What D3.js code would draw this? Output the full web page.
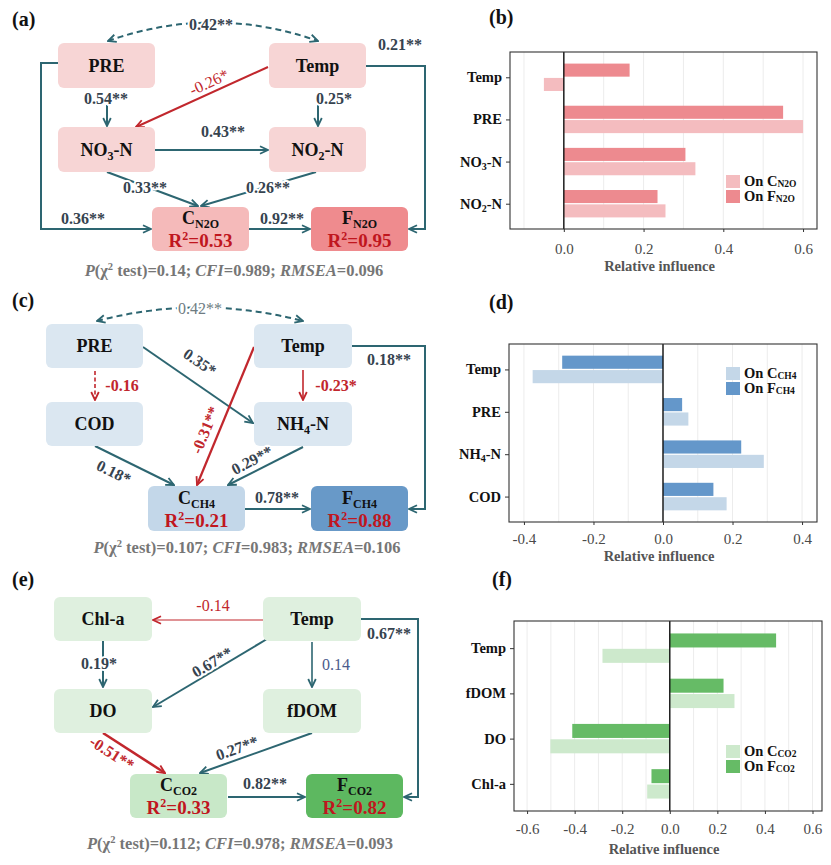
<!DOCTYPE html>
<html><head><meta charset="utf-8">
<script src="https://cdn.jsdelivr.net/npm/d3@7"></script>
<style>body{margin:0;background:#fff} text{font-family:"Liberation Serif","Times New Roman",serif}</style>
</head><body><svg id="c" width="831" height="865"></svg>
<script>
// ================= DATA =================
// (b) relative influence on N2O
const catsB = ["Temp","PRE","NO_{3}-N","NO_{2}-N"];
const onC_B = [-0.05, 0.60, 0.33, 0.255];
const onF_B = [0.165, 0.55, 0.305, 0.235];
const ticksB = [0.0, 0.2, 0.4, 0.6];
const legendB = ["On C_{N2O}", "On F_{N2O}"];
// (d) relative influence on CH4
const catsD = ["Temp","PRE","NH_{4}-N","COD"];
const onC_D = [-0.375, 0.073, 0.29, 0.183];
const onF_D = [-0.29, 0.055, 0.225, 0.145];
const ticksD = [-0.4, -0.2, 0.0, 0.2, 0.4];
const legendD = ["On C_{CH4}", "On F_{CH4}"];
// (f) relative influence on CO2
const catsF = ["Temp","fDOM","DO","Chl-a"];
const onC_F = [-0.283, 0.272, -0.502, -0.095];
const onF_F = [0.447, 0.226, -0.41, -0.077];
const ticksF = [-0.6, -0.4, -0.2, 0.0, 0.2, 0.4, 0.6];
const legendF = ["On C_{CO2}", "On F_{CO2}"];

// path diagrams: node names, R2, coefficients, fit indices
const nodesA = ["PRE","Temp","NO_{3}-N","NO_{2}-N","C_{N2O}","F_{N2O}"];
const r2A = ["0.53","0.95"];
const coefA = ["0.42**","0.54**","0.25*","-0.26*","0.43**","0.33**","0.26**","0.92**","0.36**","0.21**"];
const fitA = ["0.14","0.989","0.096"];

const nodesC = ["PRE","Temp","COD","NH_{4}-N","C_{CH4}","F_{CH4}"];
const r2C = ["0.21","0.88"];
const coefC = ["0.42**","-0.16","0.35*","-0.23*","-0.31**","0.18*","0.29**","0.78**","0.18**"];
const fitC = ["0.107","0.983","0.106"];

const nodesE = ["Chl-a","Temp","DO","fDOM","C_{CO2}","F_{CO2}"];
const r2E = ["0.33","0.82"];
const coefE = ["-0.14","0.19*","0.67**","0.14","-0.51**","0.27**","0.82**","0.67**"];
const fitE = ["0.112","0.978","0.093"];

// ================= STYLE / LAYOUT =================
const TEAL = "#2d6671", RED = "#c1272d", LBL = "#36434f";
const svg = d3.select("#c");
const defs = svg.append("defs");
function marker(id, color) {
  defs.append("marker").attr("id", id).attr("viewBox", "0 0 10 10")
    .attr("refX", 9).attr("refY", 5).attr("markerWidth", 10).attr("markerHeight", 10)
    .attr("markerUnits", "userSpaceOnUse").attr("orient", "auto-start-reverse")
    .append("path").attr("d", "M1,1.2 L9,5 L1,8.8").attr("fill", "none")
    .attr("stroke", color).attr("stroke-width", 1.8).attr("stroke-linejoin", "miter");
}
marker("aT", TEAL); marker("aR", RED);

function rich(t, str, o) {
  const size = o.size, sub = o.sub || size * 0.65, sup = o.sup || size * 0.65;
  const re = /\*([^*]+)\*|_\{([^}]*)\}|\^\{([^}]*)\}|([^*_^]+)/g;
  let m, cur = 0;
  while ((m = re.exec(str))) {
    let txt, fs = size, off = 0, it = false;
    if (m[1] !== undefined) { txt = m[1]; it = true; }
    else if (m[2] !== undefined) { txt = m[2]; fs = sub; off = (o.subShift ?? size * 0.25); }
    else if (m[3] !== undefined) { txt = m[3]; fs = sup; off = -(o.supShift ?? size * 0.38); }
    else txt = m[4];
    const ts = t.append("tspan").attr("font-size", fs).text(txt);
    if (off !== cur) ts.attr("dy", off - cur);
    if (it) ts.attr("font-style", "italic");
    cur = off;
  }
  return t;
}

function panelLabel(txt, x, y) {
  svg.append("text").attr("x", x).attr("y", y).attr("font-size", 20).attr("font-weight", "bold")
    .attr("fill", "#111").text(txt);
}

function drawDiagram(cfg) {
  const g = svg.append("g");
  cfg.edges.forEach(e => {
    let d;
    if (e.curve) {
      const [p0, c, p1] = e.curve;
      d = `M${p0[0]},${p0[1]} Q${c[0]},${c[1]} ${p1[0]},${p1[1]}`;
    } else d = d3.line()(e.pts);
    const col = e.red ? RED : TEAL;
    const p = g.append("path").attr("d", d).attr("fill", "none").attr("stroke", col)
      .attr("stroke-width", e.w || 2).attr("marker-end", `url(#${e.red ? "aR" : "aT"})`);
    if (e.dash) p.attr("stroke-dasharray", e.dash);
    if (e.both) p.attr("marker-start", `url(#${e.red ? "aR" : "aT"})`);
  });
  cfg.nodes.forEach((name, i) => {
    const [x, y, w, h] = cfg.layout[i];
    g.append("rect").attr("x", x).attr("y", y).attr("width", w).attr("height", h)
      .attr("rx", 6).attr("fill", cfg.fills[i]);
    const cx = x + w / 2, cy = y + h / 2;
    if (i < 4) {
      rich(g.append("text").attr("x", cx).attr("y", cy + 6).attr("text-anchor", "middle")
        .attr("font-weight", "bold").attr("fill", "#111"), name, {size: 18, sub: 12, subShift: 4});
    } else {
      rich(g.append("text").attr("x", cx).attr("y", cy - 5).attr("text-anchor", "middle")
        .attr("font-weight", "bold").attr("fill", "#111"), name, {size: 18, sub: 12, subShift: 4});
      rich(g.append("text").attr("x", cx).attr("y", cy + 18).attr("text-anchor", "middle")
        .attr("font-weight", "bold").attr("fill", "#c0161e"), "R^{2}=" + cfg.r2[i - 4], {size: 19, sup: 12, supShift: 7});
    }
  });
  cfg.labels.forEach((l, i) => {
    g.append("text").attr("transform", `translate(${l[0]},${l[1]}) rotate(${l[2] || 0})`)
      .attr("text-anchor", "middle").attr("dy", "0.35em").attr("font-size", 16)
      .attr("font-weight", l[4] || "bold").attr("fill", l[3] || LBL)
      .attr("stroke", "#fff").attr("stroke-width", 4).attr("paint-order", "stroke")
      .attr("stroke-linejoin", "round").text(cfg.coef[i]);
  });
  const f = cfg.fit;
  rich(g.append("text").attr("x", cfg.cap[0]).attr("y", cfg.cap[1]).attr("text-anchor", "middle")
    .attr("font-weight", "bold").attr("fill", "#767676"),
    `*P*(χ^{2} test)=${f[0]}; *CFI*=${f[1]}; *RMSEA*=${f[2]}`, {size: 16.5, sup: 10.5, supShift: 6.5});
}

// ---- diagram (a)
panelLabel("(a)", 12, 26);
drawDiagram({
  nodes: nodesA, r2: r2A, coef: coefA, fit: fitA, cap: [234, 276],
  fills: ["#f7d5d5","#f7d5d5","#f7d5d5","#f7d5d5","#f5baba","#ef8b8e"],
  layout: [[58,43,97,45],[269,43,97,45],[58,127,97,45],[269,127,97,45],[152,207,97,44],[311,207,97,44]],
  edges: [
    {curve: [[108,41],[213,4],[318,41]], dash: "6,4", both: true},
    {pts: [[107,105],[107,126]]},
    {pts: [[318,105],[318,126]]},
    {pts: [[268,67],[136,127]], red: true},
    {pts: [[155,150],[268,150]]},
    {pts: [[107,172],[198,206]]},
    {pts: [[316,172],[201,206]]},
    {pts: [[249,229],[310,229]]},
    {pts: [[58,63],[41,63],[41,229],[151,229]]},
    {pts: [[366,66],[425,66],[425,229],[409,229]]}
  ],
  labels: [[211,24],[106,98],[334,98],[209,82,-24.8,RED,"normal"],[223,131],[145,187],[268,187],[282,218],[83,218],[400,44]]
});

// ---- diagram (c)
panelLabel("(c)", 12, 307);
drawDiagram({
  nodes: nodesC, r2: r2C, coef: coefC, fit: fitC, cap: [247, 553],
  fills: ["#dbe7f1","#dbe7f1","#dbe7f1","#dbe7f1","#c3d7e9","#6899c8"],
  layout: [[46,324,97,44],[254,324,98,44],[46,402,97,44],[254,402,98,44],[148,486,97,45],[311,486,97,45]],
  edges: [
    {curve: [[97,321],[200,294],[303,321]], dash: "6,4", both: true},
    {pts: [[95,371],[95,400]], red: true, dash: "4,2.5", w: 1.6},
    {pts: [[143,347],[253,423]]},
    {pts: [[303,370],[303,400]], red: true, w: 1.6},
    {pts: [[254,347],[197,485]], red: true, w: 2.2},
    {pts: [[95,446],[174,485]]},
    {pts: [[303,447],[228,485]]},
    {pts: [[245,509],[310,509]]},
    {pts: [[352,346],[425,346],[425,509],[409,509]]}
  ],
  labels: [[200,308,0,"#6e7c82","normal"],[122,385,0,RED],[200,362,34.6],[336,385,0,RED],[205,430,-67.6,RED],[114,472,26],[252,460,-27.5],[277,497],[389,359]]
});

// ---- diagram (e)
panelLabel("(e)", 12, 586);
drawDiagram({
  nodes: nodesE, r2: r2E, coef: coefE, fit: fitE, cap: [240, 849],
  fills: ["#dff0df","#dff0df","#dff0df","#dff0df","#c8e8c8","#5db860"],
  layout: [[54,597,98,44],[263,597,98,44],[54,689,98,44],[263,689,98,44],[130,774,97,44],[306,774,97,44]],
  edges: [
    {pts: [[263,620],[153,620]], red: true, w: 1.2},
    {pts: [[103,641],[103,687]]},
    {pts: [[267,639],[153,707]]},
    {pts: [[312,642],[312,687]], w: 1.6},
    {pts: [[103,733],[165,773]], red: true, w: 2.6},
    {pts: [[312,733],[200,773]]},
    {pts: [[228,797],[305,797]]},
    {pts: [[361,619],[418,619],[418,797],[404,797]]}
  ],
  labels: [[213,605,0,RED,"normal"],[99,663],[212,662,-30.8],[336,664,0,"#4a5b8c","normal"],[112,753,32.8,RED],[237,748,-19.6],[265,783],[389,633]]
});

// ================= BAR CHARTS =================
function barChart(cfg) {
  const g = svg.append("g");
  const [x0, x1, y0, y1] = cfg.box;
  const x = d3.scaleLinear().domain(cfg.domain).range([x0, x1]);
  const y = d3.scalePoint().domain(cfg.cats).range([y0, y1]).padding(0.6);
  const step = y.step(), bh = step * 0.31, off = step * 0.17;
  const grid = d3.range(Math.ceil(cfg.domain[0] * 10), Math.floor(cfg.domain[1] * 10) + 1).map(k => k / 10);
  g.selectAll(".gr").data(grid).join("line").attr("x1", d => x(d)).attr("x2", d => x(d))
    .attr("y1", y0).attr("y2", y1).attr("stroke", "#ececec").attr("stroke-width", 1);
  const rows = cfg.cats.map((c, i) => ({c, C: cfg.C[i], F: cfg.F[i]}));
  g.selectAll(".bf").data(rows).join("rect")
    .attr("x", d => Math.min(x(0), x(d.F))).attr("width", d => Math.abs(x(d.F) - x(0)))
    .attr("y", d => y(d.c) - off - bh / 2).attr("height", bh).attr("fill", cfg.dark);
  g.selectAll(".bc").data(rows).join("rect")
    .attr("x", d => Math.min(x(0), x(d.C))).attr("width", d => Math.abs(x(d.C) - x(0)))
    .attr("y", d => y(d.c) + off - bh / 2).attr("height", bh).attr("fill", cfg.light);
  g.append("line").attr("x1", x(0)).attr("x2", x(0)).attr("y1", y0).attr("y2", y1)
    .attr("stroke", "#111").attr("stroke-width", 1.4);
  g.append("rect").attr("x", x0).attr("y", y0).attr("width", x1 - x0).attr("height", y1 - y0)
    .attr("fill", "none").attr("stroke", "#333").attr("stroke-width", 1.1);
  const ax = g.append("g").attr("transform", `translate(0,${y1})`)
    .call(d3.axisBottom(x).tickValues(cfg.ticks).tickFormat(d => d.toFixed(1)).tickSize(3).tickPadding(cfg.tp || 8));
  ax.select(".domain").remove();
  ax.selectAll("line").attr("stroke", "#333");
  ax.selectAll("text").attr("font-size", 15).attr("fill", "#4a4a4a")
    .style("font-family", '"Liberation Serif","Times New Roman",serif');
  const ay = g.append("g").attr("transform", `translate(${x0},0)`)
    .call(d3.axisLeft(y).tickSize(4).tickFormat(""));
  ay.select(".domain").remove();
  ay.selectAll("line").attr("stroke", "#333");
  cfg.cats.forEach(c => {
    rich(g.append("text").attr("x", x0 - 8).attr("y", y(c) + 5).attr("text-anchor", "end")
      .attr("font-weight", "bold").attr("fill", "#111"), c, {size: 14.5, sub: 10, subShift: 3});
  });
  g.append("text").attr("x", (x0 + x1) / 2 - 4).attr("y", cfg.titleY).attr("text-anchor", "middle")
    .attr("font-size", 14.5).attr("font-weight", "bold").attr("fill", "#555").text("Relative influence");
  [cfg.light, cfg.dark].forEach((col, i) => {
    const ly = cfg.legY + i * 15;
    g.append("rect").attr("x", 726).attr("y", ly).attr("width", 14).attr("height", 13).attr("fill", col);
    rich(g.append("text").attr("x", 744).attr("y", ly + 11).attr("font-weight", "bold").attr("fill", "#111"),
      cfg.legend[i], {size: 14.5, sub: 9.5, subShift: 0.5});
  });
}

panelLabel("(b)", 489, 24);
barChart({cats: catsB, C: onC_B, F: onF_B, ticks: ticksB, domain: [-0.135, 0.635], box: [510, 817, 52, 229],
  light: "#f4bcbf", dark: "#ed8a8f", legend: legendB, legY: 175, titleY: 271, tp: 11});
panelLabel("(d)", 489, 309);
barChart({cats: catsD, C: onC_D, F: onF_D, ticks: ticksD, domain: [-0.443, 0.443], box: [509, 817, 344, 522],
  light: "#c4d7e8", dark: "#6497ca", legend: legendD, legY: 367, titleY: 561, tp: 8});
panelLabel("(f)", 492, 586);
barChart({cats: catsF, C: onC_F, F: onF_F, ticks: ticksF, domain: [-0.655, 0.64], box: [514, 822, 621, 811],
  light: "#cde9cc", dark: "#66bb66", legend: legendF, legY: 745, titleY: 854, tp: 9});
</script></body></html>
